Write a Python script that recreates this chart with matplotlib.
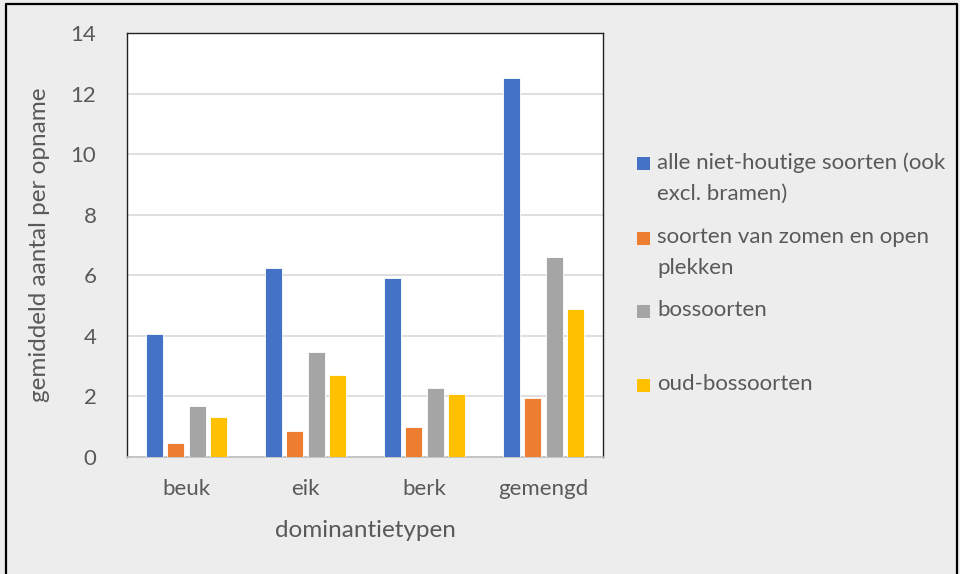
import numpy as np
import matplotlib
matplotlib.use("Agg")
import matplotlib.pyplot as plt
from matplotlib.patches import Rectangle
from matplotlib.lines import Line2D

# data
categories = ["beuk", "eik", "berk", "gemengd"]
alle_niet_houtig = [4.06, 6.23, 5.90, 12.53]
zomen_open = [0.46, 0.85, 1.00, 1.94]
bossoorten = [1.67, 3.46, 2.27, 6.59]
oud_bossoorten = [1.33, 2.70, 2.08, 4.88]

series_labels = [
    "alle niet-houtige soorten (ook\nexcl. bramen)",
    "soorten van zomen en open\nplekken",
    "bossoorten",
    "oud-bossoorten",
]
colors = ["#4472C4", "#ED7D31", "#A5A5A5", "#FFC000"]
text_col = "#595959"
bg = "#EDEDED"

plt.rcParams["font.family"] = ["Lato", "DejaVu Sans"]

fig = plt.figure(figsize=(9.6, 5.74), dpi=100, facecolor=bg)
ax = fig.add_axes([0.1323, 0.2038, 0.4958, 0.7387])
ax.set_facecolor("white")

x = np.arange(len(categories))
width = 0.14
offsets = [-0.27, -0.09, 0.09, 0.27]
all_series = [alle_niet_houtig, zomen_open, bossoorten, oud_bossoorten]
for vals, off, c in zip(all_series, offsets, colors):
    ax.bar(x + off, vals, width, color=c, edgecolor="white", linewidth=0.6, zorder=3)

ax.set_xlim(-0.5, len(categories) - 0.5)
ax.set_ylim(0, 14)
ax.set_yticks(np.arange(0, 15, 2))
ax.set_xticks(x)
ax.set_xticklabels(categories)
ax.yaxis.grid(True, color="#D9D9D9", linewidth=1.2, zorder=0)
ax.tick_params(axis="both", length=0, colors=text_col, labelsize=16)
ax.tick_params(axis="x", pad=16)
ax.tick_params(axis="y", pad=22)

for s in ["left", "right", "top"]:
    ax.spines[s].set_color("#222222")
    ax.spines[s].set_linewidth(1.0)
ax.spines["bottom"].set_color("#BFBFBF")
ax.spines["bottom"].set_linewidth(1.2)

ax.set_xlabel("dominantietypen", fontsize=17.5, color=text_col, labelpad=15)
ax.set_ylabel("gemiddeld aantal per opname", fontsize=17.5, color=text_col, labelpad=15)

# legend, drawn by hand so the marker sits on the first text line
leg_y = [163, 238, 311, 385]
for lab, c, yp in zip(series_labels, colors, leg_y):
    fig.patches.append(Rectangle((637 / 960, 1 - (yp + 7) / 574), 13 / 960, 13 / 574,
                                 transform=fig.transFigure, facecolor=c, edgecolor="none"))
    fig.text(657 / 960, 1 - (yp - 11) / 574, lab, fontsize=16, color=text_col,
             va="top", ha="left", linespacing=1.7)

# outer chart frame
fig.lines.append(Line2D([6 / 960, 6 / 960, 957 / 960, 957 / 960],
                        [0, 1 - 4 / 574, 1 - 4 / 574, 0],
                        transform=fig.transFigure, color="black", linewidth=1.6))

fig.savefig("out.png", dpi=100, facecolor=bg)
